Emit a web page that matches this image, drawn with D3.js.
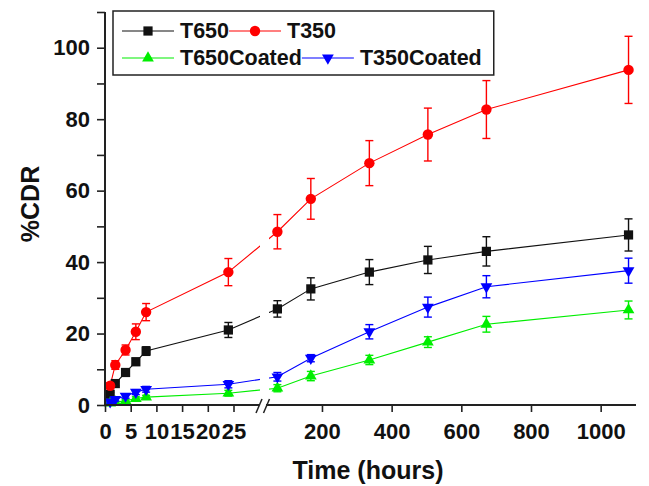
<!DOCTYPE html>
<html>
<head>
<meta charset="utf-8">
<script src="https://cdn.jsdelivr.net/npm/d3@7"></script>
<style>
  body { margin: 0; background: #fff; }
  text { font-family: Arial, "Liberation Sans", sans-serif; font-weight: bold; fill: #111; }
</style>
</head>
<body>
<svg id="chart" width="649" height="486"></svg>
<script>
// sampling times (hours)
const hours = [1, 2, 4, 6, 8, 24, 72, 168, 336, 504, 672, 1080];

const t650 = [3.0, 6.0, 9.1, 12.1, 15.1, 21.0, 26.9, 32.5, 37.2, 40.6, 43.0, 47.6];
const t650Err = [0.5, 0.6, 0.8, 1.0, 1.2, 2.1, 2.3, 3.1, 3.5, 3.8, 4.1, 4.5];
const t350 = [5.4, 11.2, 15.4, 20.5, 26.0, 37.2, 48.5, 57.7, 67.7, 75.7, 82.7, 93.8];
const t350Err = [0.8, 1.2, 1.4, 2.2, 2.4, 3.8, 4.8, 5.7, 6.3, 7.4, 8.1, 9.4];
const t650c = [0.5, 0.8, 1.2, 1.8, 2.2, 3.3, 4.7, 8.1, 12.6, 17.6, 22.6, 26.6];
const t650cErr = [0.3, 0.3, 0.4, 0.5, 0.5, 0.8, 1.0, 1.3, 1.3, 1.5, 2.2, 2.5];
const t350c = [0.9, 1.6, 2.5, 3.6, 4.4, 5.8, 7.9, 13.1, 20.5, 27.4, 33.1, 37.6];
const t350cErr = [0.4, 0.5, 0.6, 0.7, 0.8, 1.0, 1.2, 1.0, 2.0, 2.8, 3.1, 3.5];

const seriesNames = ["T650", "T350", "T650Coated", "T350Coated"];
const seriesColors = ["#111111", "#ff0000", "#00ee00", "#0000ff"];

const xTicksLow = [0, 5, 10, 15, 20, 25];
const xTicksHigh = [200, 400, 600, 800, 1000];
const yTicks = [0, 10, 20, 30, 40, 50, 60, 70, 80, 90, 100, 110];

const svg = d3.select("#chart");

// broken x axis: two linear pieces
const xLow = d3.scaleLinear().domain([0, 30]).range([105, 259.2]);
const xHigh = d3.scaleLinear().domain([0, 1100]).range([252.3, 635.5]);
const x = t => (t <= 30 ? xLow(t) : xHigh(t));
const y = d3.scaleLinear().domain([0, 110]).range([405, 12]);

const series = [
  { vals: t650, err: t650Err, shape: "square" },
  { vals: t350, err: t350Err, shape: "circle" },
  { vals: t650c, err: t650cErr, shape: "up" },
  { vals: t350c, err: t350cErr, shape: "down" }
].map((s, i) => ({ ...s, name: seriesNames[i], color: seriesColors[i] }));

function marker(g, shape, color) {
  let sym, rot = 0;
  if (shape === "square") sym = d3.symbol(d3.symbolSquare, 85);
  else if (shape === "circle") sym = d3.symbol(d3.symbolCircle, 85);
  else { sym = d3.symbol(d3.symbolTriangle, 60); if (shape === "down") rot = 180; }
  g.append("path").attr("d", sym()).attr("fill", color)
    .attr("transform", "rotate(" + rot + ")");
}

// clip out the break gap in the lines
svg.append("clipPath").attr("id", "gapclip")
  .call(c => {
    c.append("rect").attr("x", 0).attr("y", 0).attr("width", 260).attr("height", 486);
    c.append("rect").attr("x", 269).attr("y", 0).attr("width", 400).attr("height", 486);
  });

const line = d3.line().x((d, i) => x(hours[i])).y(d => y(d));

// lines
series.forEach(s => {
  svg.append("path").datum(s.vals)
    .attr("d", line)
    .attr("fill", "none")
    .attr("stroke", s.color)
    .attr("stroke-width", 1.1)
    .attr("clip-path", "url(#gapclip)");
});

// error bars + markers
series.forEach(s => {
  const g = svg.append("g");
  s.vals.forEach((v, i) => {
    const cx = x(hours[i]);
    const e = s.err[i];
    const eb = g.append("g").attr("stroke", s.color).attr("stroke-width", 1.4);
    eb.append("line").attr("x1", cx).attr("x2", cx).attr("y1", y(v + e)).attr("y2", y(v - e));
    eb.append("line").attr("x1", cx - 4).attr("x2", cx + 4).attr("y1", y(v + e)).attr("y2", y(v + e));
    eb.append("line").attr("x1", cx - 4).attr("x2", cx + 4).attr("y1", y(v - e)).attr("y2", y(v - e));
    const m = g.append("g").attr("transform", "translate(" + cx + "," + y(v) + ")");
    marker(m, s.shape, s.color);
  });
});

// axes
const axisColor = "#222";
function styleAxis(g) {
  g.select(".domain").remove();
  g.selectAll(".tick line").attr("stroke", axisColor).attr("stroke-width", 1.6);
  g.selectAll(".tick text").style("font-size", "22px").attr("fill", "#111");
}

svg.append("g").attr("transform", "translate(0,405)")
  .call(d3.axisBottom(xLow).tickValues(xTicksLow).tickSize(7).tickPadding(11).tickFormat(d3.format("d")))
  .call(styleAxis);
svg.append("g").attr("transform", "translate(0,405)")
  .call(d3.axisBottom(xHigh).tickValues(xTicksHigh).tickSize(7).tickPadding(11).tickFormat(d3.format("d")))
  .call(styleAxis);
svg.append("g").attr("transform", "translate(105,0)")
  .call(d3.axisLeft(y).tickValues(yTicks).tickSize(8).tickPadding(7)
    .tickFormat(d => (d % 20 === 0 && d <= 100 ? d : "")))
  .call(styleAxis);

// axis lines
svg.append("line").attr("x1", 105).attr("x2", 105).attr("y1", 12).attr("y2", 406)
  .attr("stroke", axisColor).attr("stroke-width", 2);
svg.append("line").attr("x1", 104).attr("x2", 259).attr("y1", 405).attr("y2", 405)
  .attr("stroke", axisColor).attr("stroke-width", 2);
svg.append("line").attr("x1", 266).attr("x2", 636).attr("y1", 405).attr("y2", 405)
  .attr("stroke", axisColor).attr("stroke-width", 2);

// break marks
[256, 263.5].forEach(a => {
  svg.append("line").attr("x1", a).attr("y1", 413).attr("x2", a + 6).attr("y2", 399)
    .attr("stroke", axisColor).attr("stroke-width", 1.5);
});

// axis titles
svg.append("text").attr("x", 368).attr("y", 479).attr("text-anchor", "middle")
  .style("font-size", "25px").text("Time (hours)");
svg.append("text").attr("transform", "translate(39,204) rotate(-90)")
  .attr("text-anchor", "middle").style("font-size", "25px").text("%CDR");

// legend
const legend = svg.append("g");
const box = legend.append("rect").attr("x", 113).attr("y", 11).attr("height", 64)
  .attr("fill", "#fff").attr("stroke", "#222").attr("stroke-width", 1.5);
const rows = [[0, 1], [2, 3]];
const rowY = [31, 58];
let maxRight = 0;
rows.forEach((r, ri) => {
  let cx = 122;
  r.forEach(si => {
    const s = series[si];
    legend.append("line").attr("x1", cx).attr("x2", cx + 52).attr("y1", rowY[ri]).attr("y2", rowY[ri])
      .attr("stroke", s.color).attr("stroke-width", 1.1);
    const m = legend.append("g").attr("transform", "translate(" + (cx + 26) + "," + rowY[ri] + ")");
    marker(m, s.shape, s.color);
    const t = legend.append("text").attr("x", cx + 58).attr("y", rowY[ri] + 7)
      .style("font-size", "21.5px").text(s.name);
    cx = cx + 58 + t.node().getComputedTextLength();
  });
  maxRight = Math.max(maxRight, cx);
});
box.attr("width", maxRight + 12 - 113);
</script>
</body>
</html>
